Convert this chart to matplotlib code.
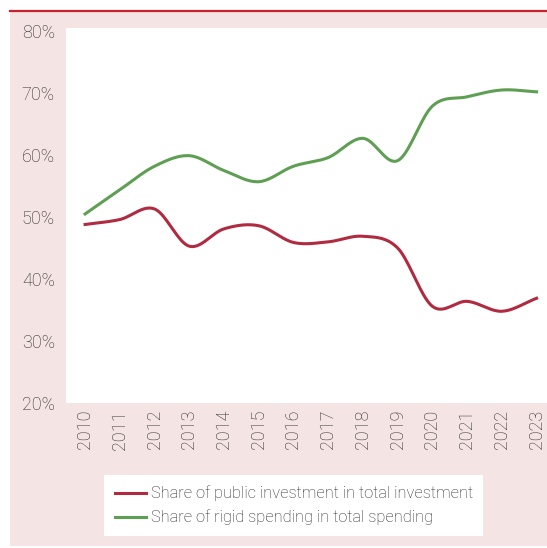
import numpy as np
import matplotlib
matplotlib.use('Agg')
import matplotlib.pyplot as plt
from matplotlib.patches import Rectangle
from matplotlib.lines import Line2D

### Data ###

years = [2010, 2011, 2012, 2013, 2014, 2015, 2016,
         2017, 2018, 2019, 2020, 2021, 2022, 2023]

public_investment_share = [48.8, 49.6, 51.3, 45.3, 48.1, 48.6, 45.9,
                           46.0, 46.9, 45.0, 35.6, 36.4, 34.8, 36.9]

rigid_spending_share = [50.5, 54.4, 58.2, 59.9, 57.5, 55.7, 58.2,
                        59.6, 62.7, 59.1, 67.9, 69.4, 70.5, 70.2]

y_ticks = [20, 30, 40, 50, 60, 70, 80]

labels = ['Share of public investment in total investment',
          'Share of rigid spending in total spending']

RED = '#b02a40'
GREEN = '#5e9f53'
PINK = '#f4e4e3'
TEXT = '#2a2a2a'

plt.rcParams['font.family'] = ['Roboto', 'DejaVu Sans']
plt.rcParams['font.weight'] = 'light'


def smooth(xs, ys, steps=20):
    # Catmull-Rom curve through the points (like a "smoothed line" chart)
    xs = np.asarray(xs, dtype=float)
    ys = np.asarray(ys, dtype=float)
    px = np.concatenate([[2 * xs[0] - xs[1]], xs, [2 * xs[-1] - xs[-2]]])
    py = np.concatenate([[2 * ys[0] - ys[1]], ys, [2 * ys[-1] - ys[-2]]])
    out_x, out_y = [], []
    t = np.linspace(0, 1, steps, endpoint=False)
    for i in range(1, len(px) - 2):
        for p, out in ((px, out_x), (py, out_y)):
            p0, p1, p2, p3 = p[i - 1], p[i], p[i + 1], p[i + 2]
            out.extend(0.5 * ((2 * p1) + (-p0 + p2) * t
                              + (2 * p0 - 5 * p1 + 4 * p2 - p3) * t ** 2
                              + (-p0 + 3 * p1 - 3 * p2 + p3) * t ** 3))
    out_x.append(xs[-1])
    out_y.append(ys[-1])
    return out_x, out_y


W, H = 547, 548
fig = plt.figure(figsize=(W / 100, H / 100), dpi=100)
fig.patch.set_facecolor('white')

# Pink panel and red rule on top
fig.patches.append(Rectangle((10 / W, 1 - 546 / H), 537 / W, 534 / H,
                             transform=fig.transFigure, facecolor=PINK,
                             edgecolor='none', zorder=-5))
fig.lines.append(Line2D([10 / W, 1], [1 - 11 / H, 1 - 11 / H],
                        transform=fig.transFigure, color='#c8202f',
                        linewidth=1.6))

ax = fig.add_axes([66 / W, 1 - 403 / H, (W - 66) / W, (403 - 28) / H])
ax.set_zorder(2)
ax.set_facecolor('white')

sx, sy = smooth(years, public_investment_share)
ax.plot(sx, sy, color=RED, linewidth=2.2, label=labels[0])
sx, sy = smooth(years, rigid_spending_share)
ax.plot(sx, sy, color=GREEN, linewidth=2.2, label=labels[1])

ax.set_xlim(2009.45, 2023.3)
ax.set_ylim(20, 80.5)
ax.set_xticks(years)
ax.set_xticklabels([str(y) for y in years], rotation=90)
ax.set_yticks(y_ticks)
ax.set_yticklabels([f'{v}%' for v in y_ticks])
ax.tick_params(length=0, labelsize=13, labelcolor=TEXT)
ax.tick_params(axis='y', pad=8)
ax.tick_params(axis='x', pad=5)
for spine in ax.spines.values():
    spine.set_visible(False)

leg = fig.legend(loc='upper left', bbox_to_anchor=(104 / W, 1 - 475 / H),
                 frameon=True, fancybox=False, facecolor='white',
                 edgecolor='none', framealpha=1, fontsize=11.8,
                 handlelength=1.9, handletextpad=0.3, labelspacing=0.5,
                 borderpad=0.65, borderaxespad=0)
leg.set_zorder(3)
for text in leg.get_texts():
    text.set_color(TEXT)

fig.savefig('out.png', dpi=100)
